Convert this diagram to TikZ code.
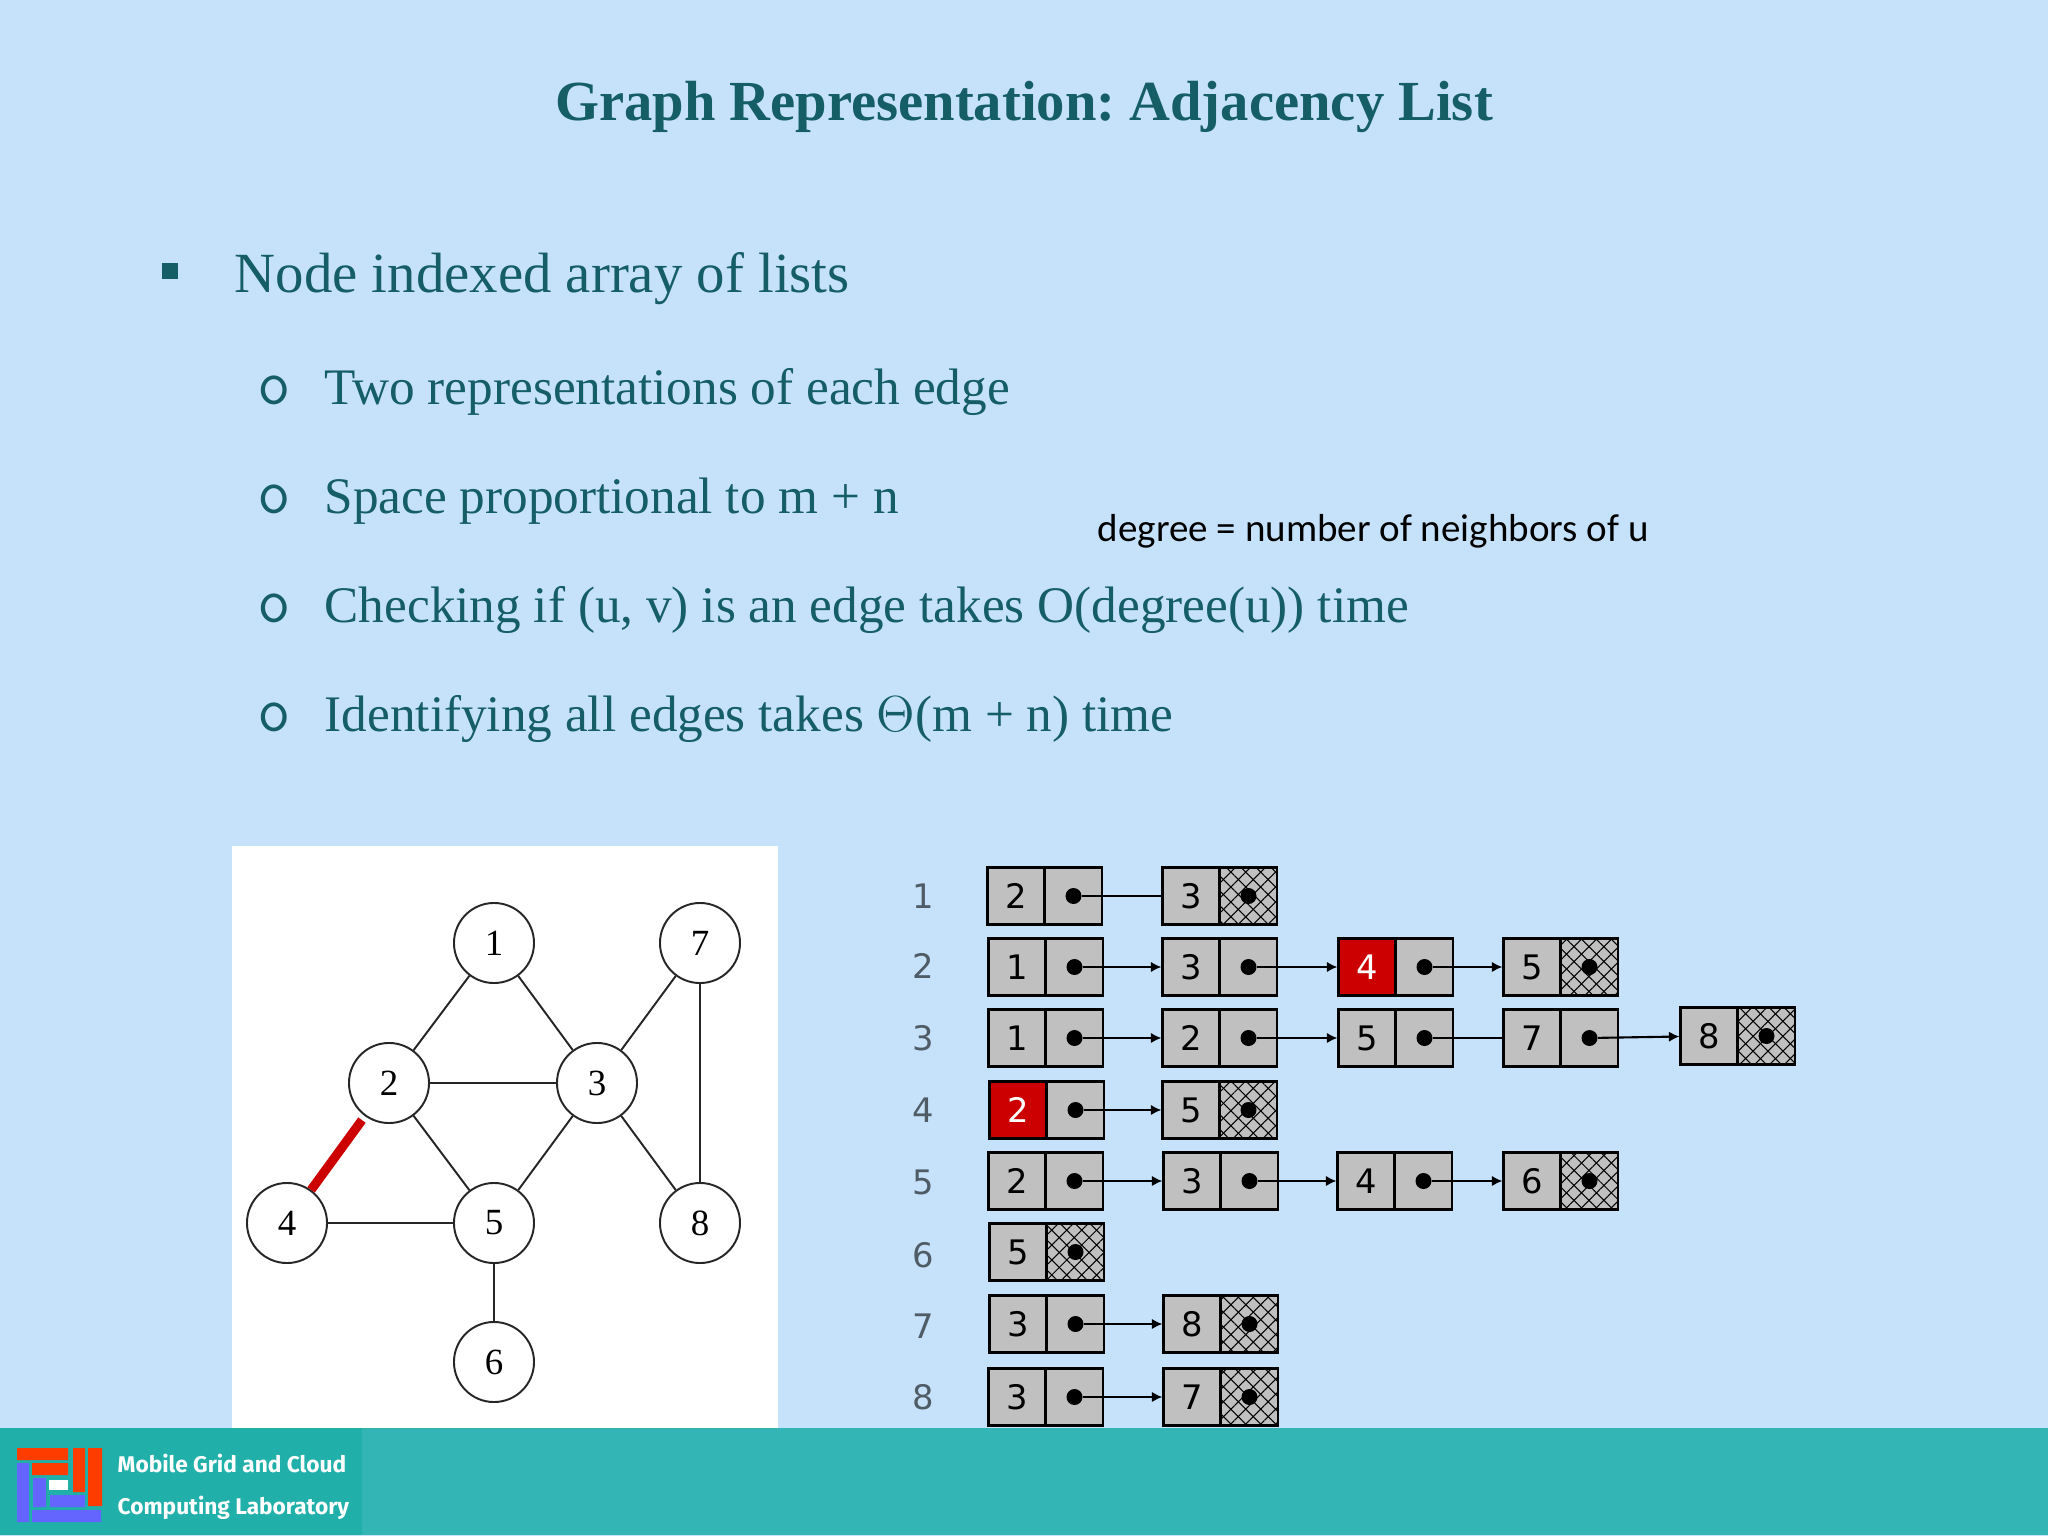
\documentclass[tikz,border=0pt]{standalone}
\usepackage{fontspec}
\usepackage{tikz}
\usetikzlibrary{arrows.meta,patterns.meta}
\setmainfont{Liberation Serif}
\newfontfamily\cellfont{DejaVu Sans}
\newfontfamily\notefont{Carlito}
\newfontfamily\labfont{Fira Sans}
\definecolor{slidebg}{HTML}{C6E2FA}
\definecolor{slidetext}{HTML}{155E66}
\definecolor{bandright}{HTML}{33B5B6}
\definecolor{bandleft}{HTML}{20B0A9}
\definecolor{cellgray}{HTML}{C0C0C0}
\definecolor{hotred}{HTML}{CC0000}
\definecolor{rowgray}{HTML}{4F5C66}
\definecolor{logored}{HTML}{FF3C00}
\definecolor{logoblue}{HTML}{6464FF}
\frenchspacing
\tikzset{
  titletext/.style={text=slidetext,font=\fontsize{16.1}{20}\bfseries\selectfont},
  maintext/.style={anchor=base west,text=slidetext,inner sep=0pt,font=\fontsize{16.15}{18}\selectfont},
  subtext/.style={anchor=base west,text=slidetext,inner sep=0pt,font=\fontsize{14.57}{17}\selectfont},
  ringtext/.style={subtext,font=\ttfamily\fontsize{18.5}{20}\selectfont},
  notetext/.style={anchor=base west,inner sep=0pt,font=\notefont\fontsize{11.1}{13}\selectfont},
  labtext/.style={anchor=base west,inner sep=0pt,text=white,font=\labfont\fontsize{6.45}{9}\bfseries\selectfont},
  gnode/.style={circle,draw=black!85,line width=0.55pt,fill=white,minimum size=0.8cm,inner sep=0pt,font=\fontsize{10.5}{12}\selectfont},
  gedge/.style={draw=black!85,line width=0.55pt},
  hotedge/.style={draw=hotred,line width=2.6pt,shorten >=1.4pt},
  valcell/.style={rectangle,draw=black,line width=0.6pt,fill=cellgray,minimum size=0.57cm,inner sep=0pt,font=\cellfont\fontsize{9.6}{11}\selectfont},
  ptrcell/.style={valcell},
  nilcell/.style={valcell,postaction={pattern={Lines[angle=45,distance=3pt,line width=0.3pt]}},
    postaction={pattern={Lines[angle=-45,distance=3pt,line width=0.3pt]}}},
  redcell/.style={valcell,fill=hotred,text=white},
  ptrdot/.style={circle,fill=black,minimum size=0.16cm,inner sep=0pt},
  rowlabel/.style={text=rowgray,font=\cellfont\fontsize{9.6}{11}\selectfont},
  link/.style={line width=0.6pt},
  tiplink/.style={link,-{Latex[length=3pt,width=3pt]}}
}
\begin{document}
\begin{tikzpicture}[x=0.01cm,y=-0.01cm]
\useasboundingbox (0,0) rectangle (2048,1536);
\fill[slidebg] (0,0) rectangle (2048,1536);
% text
\node[titletext] (title) at (1024,107) {Graph Representation: Adjacency List};
\fill[slidetext] (162,263) rectangle (178,279);
\node[maintext] (main) at (234,292) {Node indexed array of lists};
\foreach \nm/\y/\txt in {a/404/Two representations of each edge,
  b/513/Space proportional to m + n,
  c/622/{Checking if (u, v) is an edge takes O(degree(u)) time},
  d/731/Identifying all edges takes $\Theta$(m + n) time} {
  \node[subtext] (sub\nm) at (324,\y) {\txt};
  \node[ringtext] (dot\nm) at (257,\y) {o};
}
\node[notetext] (degree) at (1097,541) {degree = number of neighbors of u};
% graph
\fill[white] (232,846) rectangle (778,1430);
\node[gnode] (g1) at (494,943) {1};
\node[gnode] (g7) at (700,943) {7};
\node[gnode] (g2) at (389,1083) {2};
\node[gnode] (g3) at (597,1083) {3};
\node[gnode] (g4) at (287,1223) {4};
\node[gnode] (g5) at (494,1223) {5};
\node[gnode] (g8) at (700,1223) {8};
\node[gnode] (g6) at (494,1362) {6};
\foreach \a/\b in {1/2,1/3,2/3,2/5,3/5,3/7,3/8,7/8,4/5,5/6}
  \draw[gedge] (g\a) -- (g\b);
\draw[hotedge] (g4) -- (g2);
% lists
\foreach \r/\y in {1/896,2/966,3/1038,4/1110,5/1182,6/1255,7/1326,8/1397}
  \node[rowlabel] (row\r) at (923,\y) {\r};
\foreach \nm/\x/\y/\val/\vst/\pst in {
  11/1016/896/2/valcell/ptrcell, 12/1191/896/3/valcell/nilcell,
  21/1017/967/1/valcell/ptrcell, 22/1191/967/3/valcell/ptrcell, 23/1367/967/4/redcell/ptrcell, 24/1532/967/5/valcell/nilcell,
  31/1017/1038/1/valcell/ptrcell, 32/1191/1038/2/valcell/ptrcell, 33/1367/1038/5/valcell/ptrcell, 34/1532/1038/7/valcell/ptrcell, 35/1709/1036/8/valcell/nilcell,
  41/1018/1110/2/redcell/ptrcell, 42/1191/1110/5/valcell/nilcell,
  51/1017/1181/2/valcell/ptrcell, 52/1192/1181/3/valcell/ptrcell, 53/1366/1181/4/valcell/ptrcell, 54/1532/1181/6/valcell/nilcell,
  61/1018/1252/5/valcell/nilcell,
  71/1018/1324/3/valcell/ptrcell, 72/1192/1324/8/valcell/nilcell,
  81/1017/1397/3/valcell/ptrcell, 82/1192/1397/7/valcell/nilcell} {
  \node[\vst] (v\nm) at (\x,\y) {\val};
  \node[\pst] (p\nm) at (\x+57.5,\y) {};
  \node[ptrdot] (d\nm) at (p\nm) {};
}
\foreach \a/\b in {21/22,22/23,23/24,31/32,32/33,34/35,41/42,51/52,52/53,53/54,71/72,81/82}
  \draw[tiplink] (d\a) -- (v\b);
\draw[link] (d11) -- (v12);
\draw[link] (d33) -- (v34);
% footer
\fill[bandright] (0,1428) rectangle (2048,1535);
\fill[bandleft] (0,1428) rectangle (362,1535);
\fill[logored] (17,1448) rectangle (68,1460) (32,1463) rectangle (68,1475) (73,1448) rectangle (85,1492) (88,1448) rectangle (102,1506);
\fill[logoblue] (17,1463) rectangle (29,1522) (33,1478) rectangle (46,1507) (50,1495) rectangle (85,1507) (32,1510) rectangle (101,1522);
\fill[white] (49,1480) rectangle (68,1490);
\node[labtext] (lab1) at (117,1472) {Mobile Grid and Cloud};
\node[labtext] (lab2) at (117,1514) {Computing Laboratory};
\end{tikzpicture}
\end{document}
